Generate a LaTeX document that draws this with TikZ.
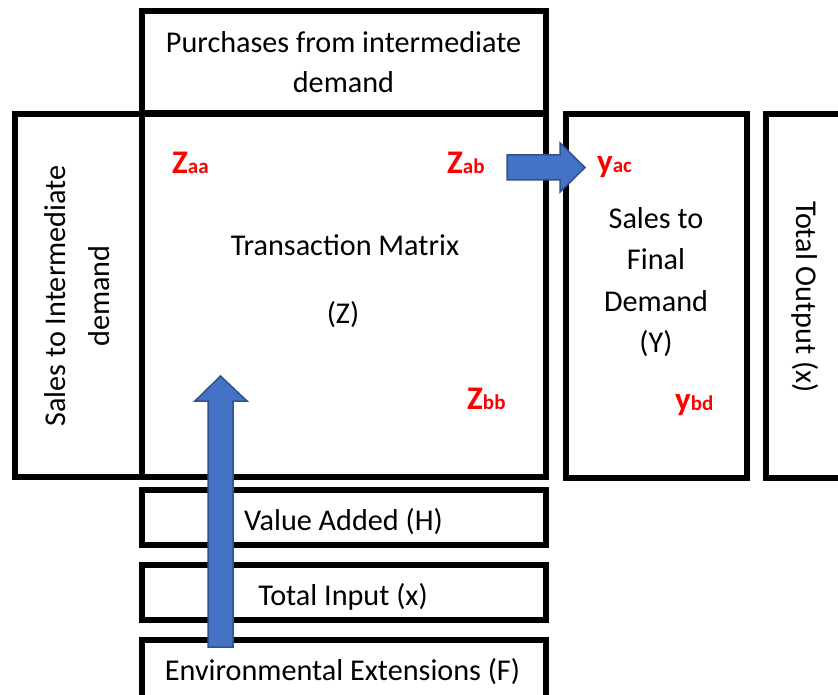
\documentclass[tikz,border=0pt]{standalone}
\usepackage{fontspec}
\setmainfont{Carlito}
\definecolor{arrowfill}{HTML}{4472C4}
\definecolor{arrowline}{HTML}{2F528F}
\definecolor{labred}{HTML}{FF0000}
\newcommand\redlab[2]{{\fontsize{33}{33}\selectfont #1}{\fontsize{21}{21}\selectfont #2}}
\begin{document}
\begin{tikzpicture}[x=1pt,y=-1pt,
  box/.style={draw=black, line width=6pt, inner sep=0pt, outer sep=0pt, line join=miter},
  txt/.style={inner sep=0pt, font=\fontsize{30.2}{40}\selectfont, text=black},
  lab/.style={inner sep=0pt, anchor=base west, text=labred, font=\bfseries},
  blockarrow/.style={fill=arrowfill, draw=arrowline, line width=1.5pt, line join=miter}]
\useasboundingbox (0,0) rectangle (838,695);
\clip (0,0) rectangle (838,695);
% boxes
\node[box, minimum width=404pt, minimum height=102pt, txt, align=center] (purch) at (343.5,62.5) {Purchases from intermediate\\demand};
\node[box, minimum width=127pt, minimum height=362pt] (sid) at (78,295.5) {};
\node[box, minimum width=404pt, minimum height=362pt] (matrix) at (343.5,295.5) {};
\node[box, minimum width=181.5pt, minimum height=363.5pt] (fd) at (656.25,296.25) {};
\node[box, minimum width=104.5pt, minimum height=363.5pt] (tout) at (817.75,296.25) {};
\node[box, minimum width=404pt, minimum height=55pt] (va) at (343.5,517.5) {};
\node[box, minimum width=404pt, minimum height=55pt] (ti) at (343.5,592.5) {};
\node[box, minimum width=404pt, minimum height=80pt] (env) at (343.5,680) {};
% texts
\node[txt, anchor=base] (txm) at (345,255) {Transaction Matrix};
\node[txt, anchor=base] (zsym) at (343,323) {(Z)};
\node[txt, align=center, rotate=90, font=\fontsize{30.2}{44}\selectfont] (sidtxt) at (77.5,296) {Sales to Intermediate\\demand};
\node[txt, align=center, font=\fontsize{30.2}{41.5}\selectfont] (fdtxt) at (656,282) {Sales to\\Final\\Demand\\(Y)};
\node[txt, rotate=-90] (touttxt) at (805,297) {Total Output (x)};
\node[txt, anchor=base] (vatxt) at (343.5,530) {Value Added (H)};
\node[txt, anchor=base] (titxt) at (343,605) {Total Input (x)};
\node[txt, anchor=base] (envtxt) at (342.5,680) {Environmental Extensions (F)};
% block arrows
\coordinate (hs) at (507,167.5);
\coordinate (ht) at (585,167.5);
\draw[blockarrow] (hs) ++(0,-12.5) -- ++(53,0) -- ++(0,-12) -- (ht) -- ++(-25,24.5) -- ++(0,-12) -- ++(-53,0) -- cycle;
\coordinate (vs) at (220.5,647);
\coordinate (vt) at (220.5,376);
\draw[blockarrow] (vs) ++(-12.5,0) -- ++(0,-246) -- ++(-13,0) -- (vt) -- ++(26.5,25) -- ++(-14,0) -- ++(0,246) -- cycle;
% labels
\node[lab] (zaa) at (172,174) {\redlab{Z}{aa}};
\node[lab] (zab) at (447,174) {\redlab{Z}{ab}};
\node[lab] (zbb) at (467,409) {\redlab{Z}{bb}};
\node[lab] (yac) at (597,173) {\redlab{y}{ac}};
\node[lab] (ybd) at (675,410) {\redlab{y}{bd}};
\end{tikzpicture}
\end{document}
